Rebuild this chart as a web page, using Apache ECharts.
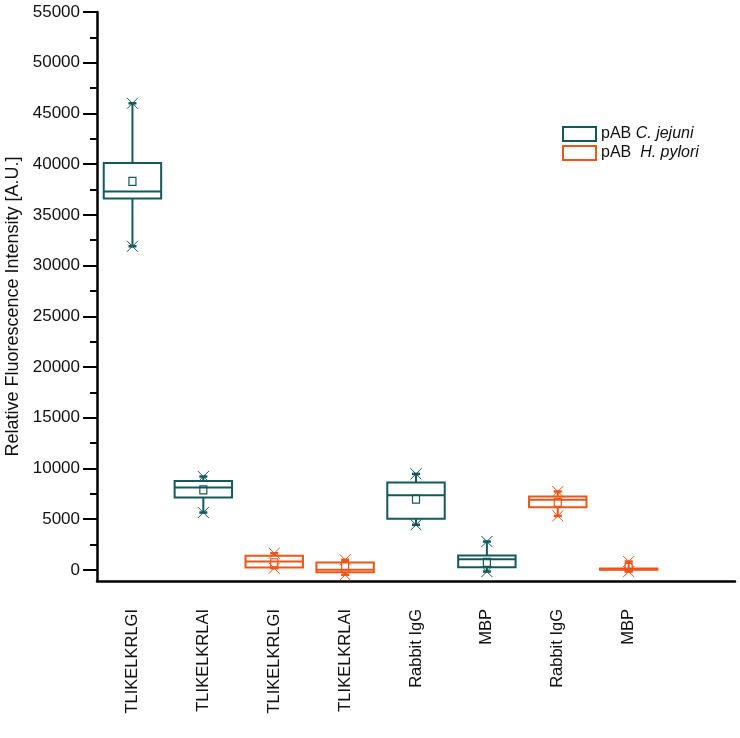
<!DOCTYPE html>
<html>
<head>
<meta charset="utf-8">
<script src="https://cdn.jsdelivr.net/npm/echarts@6/dist/echarts.min.js"></script>
<style>html,body{margin:0;padding:0;background:#fff}#c{width:740px;height:738px}</style>
</head>
<body>
<div id="c"></div>
<script>
// Categories (9th slot empty)
const categories = ['TLIKELKRLGI','TLIKELKRLAI','TLIKELKRLGI','TLIKELKRLAI','Rabbit IgG','MBP','Rabbit IgG','MBP',''];
const yTicks = [0,5000,10000,15000,20000,25000,30000,35000,40000,45000,50000,55000];
const yMinorTicks = [2500,7500,12500,17500,22500,27500,32500,37500,42500,47500,52500];

// pAB C. jejuni
const cjIdx  = [0, 1, 4, 5];
const cjMin  = [31900, 5650, 4440, -170];
const cjQ1   = [36600, 7130, 5030, 260];
const cjMed  = [37300, 8110, 7360, 1050];
const cjQ3   = [40100, 8770, 8610, 1410];
const cjMax  = [46000, 9200, 9460, 2790];
const cjMean = [38300, 7890, 6970, 740];

// pAB H. pylori
const hpIdx  = [2, 3, 6, 7];
const hpMin  = [160, -490, 5320, -170];
const hpQ1   = [230, -230, 6180, 0];
const hpMed  = [820, 0, 6900, 60];
const hpQ3   = [1380, 720, 7230, 130];
const hpMax  = [1640, 990, 7720, 820];
const hpMean = [700, 390, 6650, 250];

const teal = '#15595a';
const orange = '#ee5517';

function build(idx, mn, q1, md, q3, mx, mean) {
  return idx.map((c, i) => [c, mn[i], q1[i], md[i], q3[i], mx[i], mean[i]]);
}

function makeRender(color) {
  return function (params, api) {
    const x = api.value(0);
    const pMin = api.coord([x, api.value(1)]);
    const pQ1 = api.coord([x, api.value(2)]);
    const pMed = api.coord([x, api.value(3)]);
    const pQ3 = api.coord([x, api.value(4)]);
    const pMax = api.coord([x, api.value(5)]);
    const pMean = api.coord([x, api.value(6)]);
    const bw = api.size([1, 0])[0] * 0.81;
    const cx = pMed[0];
    const lw = {stroke: color, lineWidth: 2, fill: null};
    const star = (p) => ([
      {type: 'line', shape: {x1: p[0]-5.5, y1: p[1]-5.5, x2: p[0]+5.5, y2: p[1]+5.5}, style: {stroke: color, lineWidth: 1}},
      {type: 'line', shape: {x1: p[0]-5.5, y1: p[1]+5.5, x2: p[0]+5.5, y2: p[1]-5.5}, style: {stroke: color, lineWidth: 1}},
      {type: 'line', shape: {x1: p[0]-4, y1: p[1], x2: p[0]+4, y2: p[1]}, style: {stroke: color, lineWidth: 2.5}}
    ]);
    const children = [
      {type: 'line', shape: {x1: cx, y1: pQ3[1], x2: cx, y2: pMax[1]}, style: lw},
      {type: 'line', shape: {x1: cx, y1: pQ1[1], x2: cx, y2: pMin[1]}, style: lw},
      {type: 'rect', shape: {x: cx - bw/2, y: pQ3[1], width: bw, height: pQ1[1] - pQ3[1]}, style: lw},
      {type: 'line', shape: {x1: cx - bw/2, y1: pMed[1], x2: cx + bw/2, y2: pMed[1]}, style: lw},
      {type: 'rect', shape: {x: cx - 3.5, y: pMean[1] - 4, width: 7, height: 8}, style: {stroke: color, lineWidth: 1.2, fill: null}}
    ].concat(star(pMax), star(pMin));
    return {type: 'group', children: children};
  };
}

const font = 'Liberation Sans, Arial, sans-serif';
const chart = echarts.init(document.getElementById('c'));
chart.setOption({
  animation: false,
  backgroundColor: '#fff',
  grid: {left: 97, right: 5, top: 12, bottom: 157, containLabel: false, outerBoundsMode: 'none'},
  legend: {
    orient: 'vertical', left: 562, top: 126, padding: 0, itemWidth: 33, itemHeight: 14, itemGap: 3,
    icon: 'rect',
    data: [
      {name: 'pAB C. jejuni', itemStyle: {color: '#fff', borderColor: teal, borderWidth: 2}},
      {name: 'pAB H. pylori', itemStyle: {color: '#fff', borderColor: orange, borderWidth: 2}}
    ],
    formatter: function (n) {
      return n === 'pAB C. jejuni' ? '{a|pAB }{b|C. jejuni}' : '{a|pAB  }{b|H. pylori}';
    },
    textStyle: {
      fontFamily: font, fontSize: 16, color: '#111', lineHeight: 14,
      rich: {a: {fontFamily: font, fontSize: 16, color: '#111', lineHeight: 14}, b: {fontFamily: font, fontSize: 16, fontStyle: 'italic', color: '#111', lineHeight: 14}}
    }
  },
  xAxis: {
    type: 'category', data: categories, boundaryGap: true,
    axisLine: {onZero: false, lineStyle: {color: '#000', width: 2.5}},
    axisTick: {alignWithLabel: true, length: 14, lineStyle: {color: '#000', width: 2}},
    axisLabel: {interval: 0, rotate: 90, margin: 28, fontFamily: font, fontSize: 16.5, color: '#111'},
    splitLine: {show: false}
  },
  yAxis: [{
    type: 'value', min: -1100, max: 55000,
    name: 'Relative Fluorescence Intensity [A.U.]', nameLocation: 'middle', nameGap: 74,
    nameTextStyle: {fontFamily: font, fontSize: 18, color: '#111', padding: [0, 20, 0, 0]},
    axisLine: {show: true, onZero: false, lineStyle: {color: '#000', width: 2.5}},
    axisTick: {show: true, length: 14, customValues: yTicks, lineStyle: {color: '#000', width: 2}},
    axisLabel: {customValues: yTicks, margin: 17, fontFamily: font, fontSize: 17, color: '#111',
      formatter: function (v) { return String(v); }},
    splitLine: {show: false}
  }, {
    type: 'value', min: -1100, max: 55000, position: 'left',
    axisLine: {show: false, onZero: false},
    axisTick: {show: true, length: 7, customValues: yMinorTicks, lineStyle: {color: '#000', width: 2}},
    axisLabel: {show: false},
    splitLine: {show: false}
  }],
  series: [{
    name: 'pAB C. jejuni', type: 'custom', clip: false, color: teal,
    renderItem: makeRender(teal),
    encode: {x: 0, y: [1, 2, 3, 4, 5, 6]},
    data: build(cjIdx, cjMin, cjQ1, cjMed, cjQ3, cjMax, cjMean)
  }, {
    name: 'pAB H. pylori', type: 'custom', clip: false, color: orange,
    renderItem: makeRender(orange),
    encode: {x: 0, y: [1, 2, 3, 4, 5, 6]},
    data: build(hpIdx, hpMin, hpQ1, hpMed, hpQ3, hpMax, hpMean)
  }]
});
</script>
</body>
</html>
